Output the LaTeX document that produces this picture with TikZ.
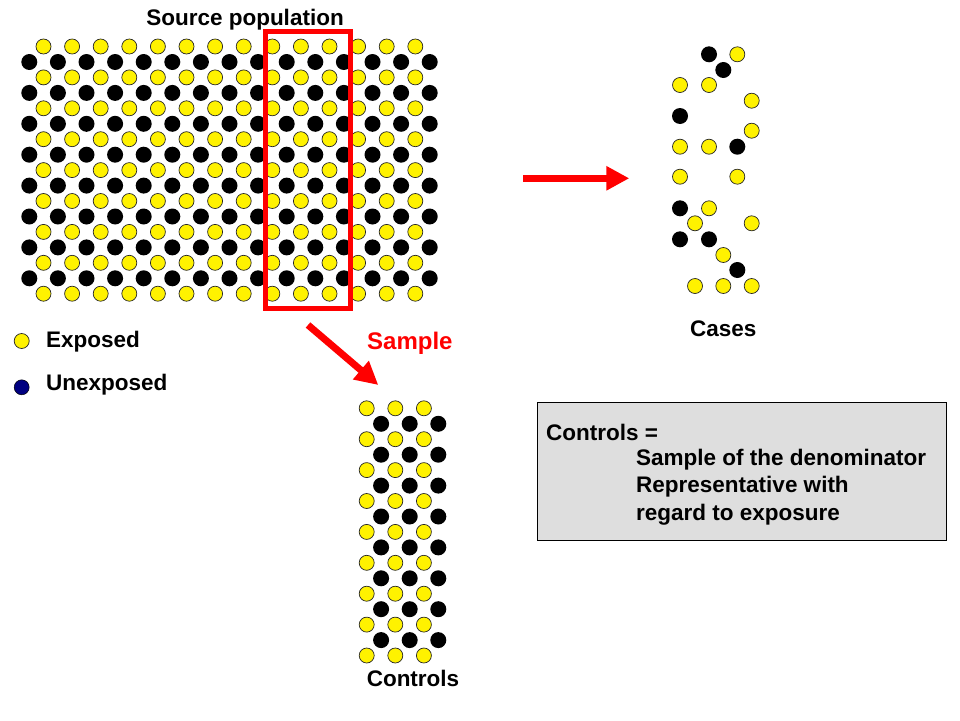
\documentclass[tikz,border=0pt]{standalone}
\usepackage{fontspec}
\setmainfont{Liberation Sans}
\usetikzlibrary{arrows.meta}

\begin{document}
\begin{tikzpicture}[
  x=1pt,y=-1pt,
  exposed/.style={circle,draw=black!85,fill=yellow,line width=0.7pt,inner sep=0pt,minimum size=15pt},
  unexposed/.style={circle,fill=black,inner sep=0pt,minimum size=16pt},
  txt/.style={font=\fontsize{22.5}{26}\selectfont\bfseries,inner sep=0pt},
  bigarrow/.style={draw=red,line width=7pt,-{Triangle[length=23pt,width=23pt]}}
]

\useasboundingbox (0,0) rectangle (960,720);

% source population
\foreach \r in {0,...,8} \foreach \c in {0,...,13}
  \node[exposed] (src-e\r-\c) at (43.5+28.6*\c,46.5+30.9*\r) {};
\foreach \r in {0,...,7} \foreach \c in {0,...,14}
  \node[unexposed] (src-u\r-\c) at (29.3+28.6*\c,62+30.9*\r) {};
\node[txt] (src) at (245,19.5) {Source population};
\draw[red,line width=5pt] (265.8,31.8) rectangle (350.2,308.2);

% controls = the three sampled columns
\begin{scope}[shift={(94.4,361.8)}]
\foreach \r in {0,...,8} \foreach \c in {8,...,10}
  \node[exposed] (ctl-e\r-\c) at (43.5+28.6*\c,46.5+30.9*\r) {};
\foreach \r in {0,...,7} \foreach \c in {9,...,11}
  \node[unexposed] (ctl-u\r-\c) at (29.3+28.6*\c,62+30.9*\r) {};
\end{scope}
\node[txt] (ctl) at (413,678) {Controls};

% cases
\foreach \x/\y [count=\i] in {737.3/54.3,680/85,709/85,751.7/100.7,751.7/130.7,
  680/146.7,709/146.7,680/176.7,737.3/176.7,709/208.3,695/223.3,751.7/223.3,
  723.3/255,695/286,723.3/286,751.7/286}
  \node[exposed] (cas-e\i) at (\x,\y) {};
\foreach \x/\y [count=\i] in {709/54.3,723.3/70,680/116,737.3/146.7,680/208.3,
  680/239.3,709/239.3,737.3/270}
  \node[unexposed] (cas-u\i) at (\x,\y) {};
\node[txt] (cas) at (723.3,329) {Cases};

% arrows
\coordinate (to-cas-a) at (523,178.3);
\coordinate (to-cas-b) at (629.3,178.3);
\draw[bigarrow] (to-cas-a) -- (to-cas-b);
\coordinate (to-ctl-a) at (308,325);
\coordinate (to-ctl-b) at (378.3,385);
\draw[bigarrow] (to-ctl-a) -- (to-ctl-b);
\node[txt,red,anchor=west,font=\fontsize{24}{28}\selectfont\bfseries] (smp) at (367,343.5) {Sample};

% legend
\node[exposed] (leg-e) at (21.7,341) {};
\node[txt,anchor=west] (leg-et) at (46,341.5) {Exposed};
\node[unexposed,fill=blue!50!black,draw=black,line width=0.5pt,minimum size=15pt] (leg-u) at (21.7,387.3) {};
\node[txt,anchor=west] (leg-ut) at (46,384.5) {Unexposed};

% note
\draw[black,fill=black!13,line width=0.8pt] (537.3,402.3) rectangle (946,540.7);
\node[txt,anchor=west] (note1) at (546,432) {Controls =};
\node[txt,anchor=west] (note2) at (636,459.5) {Sample of the denominator};
\node[txt,anchor=west] (note3) at (636,487) {Representative with};
\node[txt,anchor=west] (note4) at (636,514.5) {regard to exposure};

\end{tikzpicture}
\end{document}
